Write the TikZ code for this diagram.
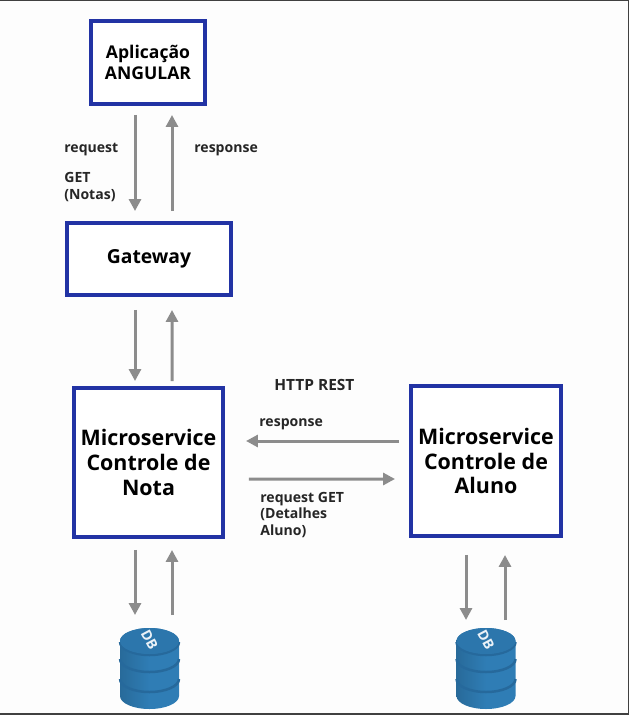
\documentclass[tikz,border=0pt]{standalone}
\usepackage{fontspec}
\setmainfont{Open Sans}
\usepackage{tikz}
\usetikzlibrary{arrows.meta,calc}

\definecolor{boxblue}{HTML}{2233A4}
\definecolor{flowgray}{HTML}{8C8C8C}
\definecolor{paper}{HTML}{FDFDFD}
\definecolor{dbdark}{HTML}{26699C}
\definecolor{dbmid}{HTML}{2F7DB5}
\definecolor{dbtop}{HTML}{2C76AC}

\begin{document}
\begin{tikzpicture}[x=0.02cm,y=-0.02cm,
        box/.style={rectangle,draw=boxblue,line width=0.07cm,fill=white,outer sep=0pt,inner sep=0pt,align=center,font=\bfseries},
        flow/.style={-{Triangle[length=0.24cm,width=0.24cm]},draw=flowgray,line width=0.06cm},
        lbl/.style={anchor=west,inner sep=0pt,align=left,font=\fontsize{8}{9.6}\selectfont\bfseries,text=black!85},
        dbcyl/.pic={
          \path[left color=dbmid!85!black,right color=dbmid,middle color=dbmid]
            (-29.5,13) -- (-29.5,68) arc[start angle=180,end angle=0,x radius=29.5,y radius=13]
            -- (29.5,13) arc[start angle=0,end angle=-180,x radius=29.5,y radius=13] -- cycle;
          \draw[dbdark,line width=0.05cm] (-29.5,14) arc[start angle=180,end angle=0,x radius=29.5,y radius=13];
          \fill[dbtop] (0,13) ellipse[x radius=29.5,y radius=13];
          \draw[dbdark,line width=0.05cm] (-29.5,31) arc[start angle=180,end angle=0,x radius=29.5,y radius=13];
          \draw[dbdark,line width=0.05cm] (-29.5,51) arc[start angle=180,end angle=0,x radius=29.5,y radius=13];
          \node[rotate=-62,text=white!90!dbtop,inner sep=0pt,font=\fontsize{8}{8}\selectfont\bfseries] at (0,12) {DB};
        }]

        \useasboundingbox (0,0) rectangle (629,715);
        \fill[paper] (0,0) rectangle (629,715);
        \draw[black!75,line width=0.04cm] (0,0.5) -- (629,0.5);
        \draw[black!75,line width=0.04cm] (0,714) -- (629,714);
        \draw[black!75,line width=0.03cm] (628.5,0) -- (628.5,715);

        \node [box,minimum width=2.28cm,minimum height=1.66cm,font=\fontsize{10}{11.4}\selectfont\bfseries]
          (app) at (148,62.5) {Aplicação\\[0.3pt]ANGULAR};
        \node [box,minimum width=3.28cm,minimum height=1.44cm,font=\fontsize{11}{12}\selectfont\bfseries]
          (gateway) at (149,259) {Gateway};
        \node [box,minimum width=2.98cm,minimum height=2.98cm,font=\fontsize{12.2}{14}\selectfont\bfseries]
          (nota) at (148.5,462.5) {Microservice\\Controle de\\Nota};
        \node [box,minimum width=3cm,minimum height=3cm,font=\fontsize{12.2}{14}\selectfont\bfseries]
          (aluno) at (486,461) {Microservice\\Controle de\\Aluno};

        \coordinate (dbnota) at (149.5,628);
        \coordinate (dbaluno) at (486,628);
        \pic at (dbnota) {dbcyl};
        \pic at (dbaluno) {dbcyl};

        \draw[flow] ($(app.south)+(-13,11)$) -- ($(gateway.north)+(-14,-12)$);
        \draw[flow] ($(gateway.north)+(23,-12)$) -- ($(app.south)+(24,11)$);
        \draw[flow] ($(gateway.south)+(-14,15)$) -- ($(nota.north)+(-13.5,-7)$);
        \draw[flow] ($(nota.north)+(23.5,-7)$) -- ($(gateway.south)+(23,15)$);
        \draw[flow] ($(nota.south)+(-13.5,13)$) -- ($(dbnota)+(-14.5,-13)$);
        \draw[flow] ($(dbnota)+(22.5,-13)$) -- ($(nota.south)+(23.5,13)$);
        \draw[flow] ($(aluno.south)+(-20,19)$) -- ($(dbaluno)+(-20,-8)$);
        \draw[flow] ($(dbaluno)+(19,-8)$) -- ($(aluno.south)+(19,19)$);
        \draw[flow] ($(aluno.west)+(-12,-20)$) -- ($(nota.east)+(23,-21.5)$);
        \draw[flow] ($(nota.east)+(26,16.5)$) -- ($(aluno.west)+(-16,18)$);

        \node [lbl] (lreq) at (64,150) {request};
        \node [lbl] (lget) at (64,187) {GET\\(Notas)};
        \node [lbl] (lresp) at (194,150) {response};
        \node [lbl,font=\fontsize{8.8}{9.6}\selectfont\bfseries] (lhttp) at (274,385) {HTTP REST};
        \node [lbl] (lresp2) at (259,424) {response};
        \node [lbl] (lreq2) at (260,515) {request GET\\(Detalhes\\Aluno)};
      \end{tikzpicture}
\end{document}
